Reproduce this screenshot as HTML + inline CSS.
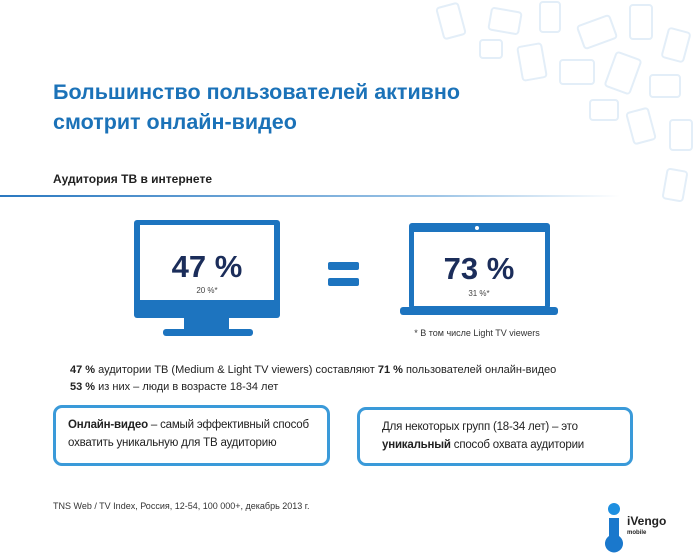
<!DOCTYPE html>
<html><head><meta charset="utf-8"><style>
body{margin:0;width:700px;height:559px;background:#fff;font-family:"Liberation Sans","DejaVu Sans",sans-serif;position:relative;overflow:hidden}
.a{position:absolute;margin:0}
.box{position:absolute;border:3px solid #3a9ad9;border-radius:9px;box-sizing:border-box;font-size:11.5px;letter-spacing:-0.2px;color:#222;line-height:18px;padding:8px 12px}
</style></head><body>
<svg class="a" style="left:380px;top:0" width="320" height="240">
<g fill="none" stroke="#e3eef8" stroke-width="2">
<rect x="60" y="5" width="22" height="32" rx="3" transform="rotate(-15 71 21)"/><rect x="110" y="10" width="30" height="22" rx="3" transform="rotate(10 125 21)"/><rect x="160" y="2" width="20" height="30" rx="3"/>
<rect x="200" y="20" width="34" height="24" rx="3" transform="rotate(-20 217 32)"/><rect x="250" y="5" width="22" height="34" rx="3"/><rect x="285" y="30" width="22" height="30" rx="3" transform="rotate(15 296 45)"/>
<rect x="140" y="45" width="24" height="34" rx="3" transform="rotate(-10 152 62)"/><rect x="180" y="60" width="34" height="24" rx="3"/><rect x="230" y="55" width="26" height="36" rx="3" transform="rotate(20 243 73)"/>
<rect x="270" y="75" width="30" height="22" rx="3"/><rect x="250" y="110" width="22" height="32" rx="3" transform="rotate(-15 261 126)"/><rect x="290" y="120" width="22" height="30" rx="3"/>
<rect x="210" y="100" width="28" height="20" rx="3"/><rect x="285" y="170" width="20" height="30" rx="3" transform="rotate(10 295 185)"/><rect x="100" y="40" width="22" height="18" rx="3"/>
</g></svg>
<h1 class="a" style="left:53px;top:77px;font-size:21.5px;line-height:30px;color:#1b72b8;font-weight:bold">Большинство пользователей активно<br>смотрит онлайн-видео</h1>
<div class="a" style="left:53px;top:172px;font-size:12px;font-weight:bold;color:#222">Аудитория ТВ в интернете</div>
<div class="a" style="left:0;top:195px;width:620px;height:2px;background:linear-gradient(90deg,#2a78c0,#9cc4e6 70%,rgba(255,255,255,0))"></div>
<svg class="a" style="left:0;top:200px" width="700" height="150">
<g fill="#1d74bf">
<rect x="134" y="20" width="146" height="98" rx="3"/>
<rect x="184" y="117" width="45" height="13"/>
<rect x="163" y="129" width="90" height="7" rx="3"/>
</g>
<rect x="140" y="25" width="134" height="75" fill="#fff"/>
<text x="207" y="77" text-anchor="middle" font-size="31" font-weight="bold" fill="#1b2d5a" font-family="Liberation Sans,sans-serif">47 %</text>
<text x="207" y="93" text-anchor="middle" font-size="8" fill="#444" font-family="Liberation Sans,sans-serif">20 %*</text>
<g fill="#1d74bf"><rect x="328" y="62" width="31" height="8" rx="2"/><rect x="328" y="78" width="31" height="8" rx="2"/></g>
<g fill="#1d74bf">
<rect x="409" y="23" width="141" height="86" rx="3"/>
<rect x="400" y="107" width="158" height="8" rx="3"/>
</g>
<rect x="414" y="32" width="131" height="74" fill="#fff"/>
<circle cx="477" cy="28" r="2" fill="#fff"/>
<text x="479" y="79" text-anchor="middle" font-size="31" font-weight="bold" fill="#1b2d5a" font-family="Liberation Sans,sans-serif">73 %</text>
<text x="479" y="96" text-anchor="middle" font-size="8" fill="#444" font-family="Liberation Sans,sans-serif">31 %*</text>
<text x="477" y="136" text-anchor="middle" font-size="9" fill="#333" font-family="Liberation Sans,sans-serif">* В том числе Light TV viewers</text>
</svg>
<div class="a" style="left:70px;top:362px;font-size:11px;line-height:17px;color:#222"><b>47 %</b> аудитории ТВ (Medium &amp; Light TV viewers) составляют <b>71 %</b> пользователей онлайн-видео<br><b>53 %</b> из них – люди в возрасте 18-34 лет</div>
<div class="box" style="left:53px;top:405px;width:277px;height:61px"><b>Онлайн-видео</b> – самый эффективный способ<br>охватить уникальную для ТВ аудиторию</div>
<div class="box" style="left:357px;top:407px;width:276px;height:59px;padding-left:22px">Для некоторых групп (18-34 лет) – это <b>уникальный</b> способ охвата аудитории</div>
<div class="a" style="left:53px;top:501px;font-size:9px;color:#333">TNS Web / TV Index, Россия, 12-54, 100 000+, декабрь 2013 г.</div>
<svg class="a" style="left:604px;top:500px" width="96" height="59">
<circle cx="10" cy="9" r="6" fill="#1e8fe0"/>
<path d="M5 18h10v18a9 9 0 1 1-10 0z" fill="#1a78cc"/>
<text x="23" y="25" font-size="12" font-weight="bold" fill="#222" font-family="Liberation Sans,sans-serif">iVengo</text>
<text x="23" y="34" font-size="6" font-weight="bold" fill="#222" font-family="Liberation Sans,sans-serif">mobile</text>
</svg>
</body></html>
